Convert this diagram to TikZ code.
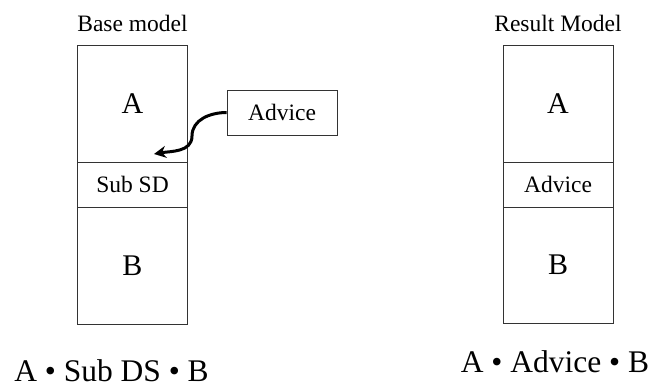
\documentclass[tikz,border=0pt]{standalone}
\usepackage{fontspec}
\setmainfont{Liberation Serif}
\usetikzlibrary{arrows.meta}
\begin{document}
\begin{tikzpicture}[x=1pt,y=-1pt,
  cell/.style={draw=black!80,line width=0.8pt,inner sep=0pt,minimum width=110pt},
  big/.style={font=\fontsize{30}{30}\selectfont},
  mid/.style={font=\fontsize{23.5}{23.5}\selectfont},
  title/.style={font=\fontsize{23.5}{23.5}\selectfont,inner sep=0pt,anchor=base},
  formula/.style={font=\fontsize{31.5}{31.5}\selectfont,inner sep=0pt,anchor=base},
  advarrow/.style={-{Stealth[length=12pt,width=12pt]},line width=3pt}]
\useasboundingbox (0,0) rectangle (653,388);
% left column
\node[cell,big,minimum height=117pt] (la) at (132.5,103.5) {A};
\node[cell,mid,minimum height=45pt] (ls) at (132.5,184.5) {Sub SD};
\node[cell,big,minimum height=117pt] (lb) at (132.5,265.5) {B};
\node[title] (lt) at (132.5,31.7) {Base model};
% advice box
\node[cell,mid,minimum height=45pt] (adv) at (282,112.5) {Advice};
\coordinate (mid) at (192,136);
\coordinate (tip) at (154,154);
\draw[advarrow] (adv.west) to[out=180,in=90] (mid) to[out=-90,in=10] (tip);
% right column
\node[cell,big,minimum height=117pt] (ra) at (558,103.5) {A};
\node[cell,mid,minimum height=45pt] (rs) at (558,184.5) {Advice};
\node[cell,big,minimum height=116pt] (rb) at (558,265) {B};
\node[title] (rt) at (558,31.7) {Result Model};
% formulas
\node[formula] (lf) at (111.5,381.5) {A • Sub DS • B};
\node[formula] (rf) at (555,372) {A • Advice • B};
\end{tikzpicture}
\end{document}
